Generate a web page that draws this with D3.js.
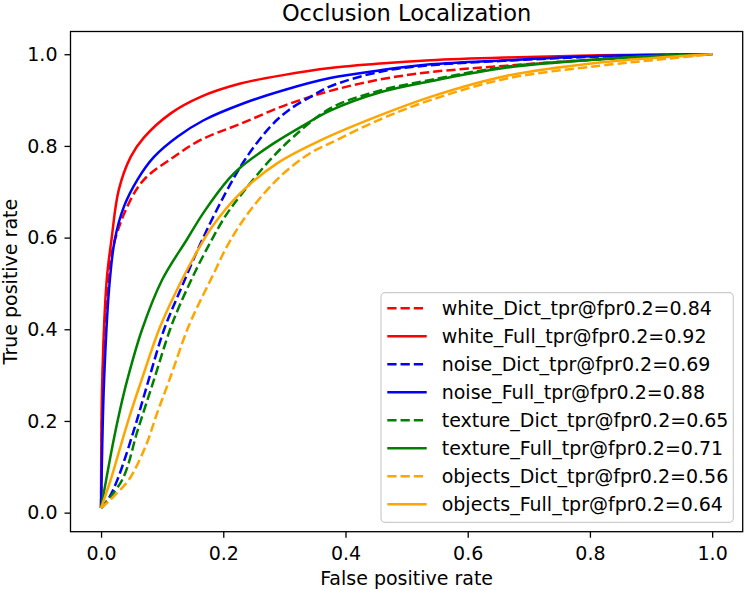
<!DOCTYPE html>
<html>
<head>
<meta charset="utf-8">
<script src="https://cdn.jsdelivr.net/npm/d3@7"></script>
<style>
  body { margin: 0; background: #fff; }
  text { font-family: "DejaVu Sans", sans-serif; }
</style>
</head>
<body>
<div id="chart"></div>
<script>
// Canvas size and margins (axes box)
var w = 747;
var h = 590;
var margin = {top: 31.5, right: 4.3, bottom: 58.3, left: 70.5};

// Series names, colours and styles (legend order = draw order)
var seriesNames = [
  "white_Dict_tpr@fpr0.2=0.84",
  "white_Full_tpr@fpr0.2=0.92",
  "noise_Dict_tpr@fpr0.2=0.69",
  "noise_Full_tpr@fpr0.2=0.88",
  "texture_Dict_tpr@fpr0.2=0.65",
  "texture_Full_tpr@fpr0.2=0.71",
  "objects_Dict_tpr@fpr0.2=0.56",
  "objects_Full_tpr@fpr0.2=0.64"
];
var seriesColors = ["red", "red", "blue", "blue", "green", "green", "orange", "orange"];
var seriesDashed = [true, false, true, false, true, false, true, false];

// ROC points [fpr, tpr]
var whiteDict = [[0,0.01],[0.003,0.3],[0.008,0.45],[0.0186,0.573],[0.043,0.668],[0.07,0.726],[0.119,0.776],[0.163,0.813],[0.228,0.848],[0.30,0.888],[0.375,0.92],[0.457,0.945],[0.539,0.961],[0.664,0.975],[0.816,0.989],[0.925,0.996],[1,1]];
var whiteFull = [[0,0.01],[0.002,0.29],[0.0093,0.508],[0.017,0.595],[0.029,0.704],[0.0485,0.776],[0.07,0.818],[0.114,0.871],[0.163,0.907],[0.228,0.936],[0.30,0.955],[0.375,0.970],[0.457,0.980],[0.539,0.987],[0.664,0.993],[0.816,0.998],[1,1]];
var noiseDict = [[0,0.01],[0.012,0.03],[0.027,0.0725],[0.054,0.181],[0.078,0.29],[0.103,0.399],[0.130,0.486],[0.1655,0.595],[0.2036,0.697],[0.236,0.771],[0.277,0.842],[0.307,0.878],[0.348,0.911],[0.375,0.93],[0.457,0.962],[0.539,0.976],[0.664,0.986],[0.816,0.995],[1,1]];
var noiseFull = [[0,0.01],[0.002,0.15],[0.005,0.29],[0.013,0.486],[0.0224,0.595],[0.0376,0.668],[0.0594,0.726],[0.0866,0.776],[0.125,0.82],[0.168,0.856],[0.2335,0.893],[0.30,0.922],[0.375,0.948],[0.457,0.965],[0.539,0.978],[0.664,0.987],[0.816,0.996],[1,1]];
var textureDict = [[0,0.01],[0.035,0.0725],[0.06,0.18],[0.0866,0.29],[0.113,0.40],[0.128,0.45],[0.152,0.52],[0.179,0.59],[0.205,0.65],[0.233,0.70],[0.277,0.77],[0.315,0.82],[0.375,0.882],[0.457,0.921],[0.539,0.944],[0.664,0.973],[0.816,0.989],[0.925,0.997],[1,1]];
var textureFull = [[0,0.01],[0.0085,0.0725],[0.0186,0.145],[0.030,0.218],[0.043,0.29],[0.067,0.399],[0.10,0.508],[0.141,0.597],[0.168,0.655],[0.209,0.728],[0.228,0.753],[0.283,0.806],[0.3315,0.845],[0.375,0.877],[0.457,0.917],[0.539,0.941],[0.664,0.971],[0.816,0.989],[0.925,0.997],[1,1]];
var objectsDict = [[0,0.01],[0.016,0.029],[0.03,0.048],[0.046,0.0725],[0.073,0.145],[0.092,0.218],[0.112,0.29],[0.141,0.399],[0.158,0.45],[0.182,0.515],[0.209,0.588],[0.2445,0.66],[0.293,0.733],[0.342,0.784],[0.375,0.806],[0.457,0.858],[0.539,0.9],[0.664,0.947],[0.816,0.975],[0.925,0.99],[1,1]];
var objectsFull = [[0,0.01],[0.016,0.0725],[0.032,0.145],[0.0485,0.218],[0.0665,0.29],[0.0947,0.399],[0.1166,0.465],[0.149,0.55],[0.182,0.624],[0.228,0.697],[0.288,0.762],[0.359,0.812],[0.457,0.867],[0.539,0.907],[0.664,0.953],[0.816,0.982],[0.925,0.994],[1,1]];

var seriesData = [whiteDict, whiteFull, noiseDict, noiseFull, textureDict, textureFull, objectsDict, objectsFull];

// Tick values
var xTicks = [0, 0.2, 0.4, 0.6, 0.8, 1.0];
var yTicks = [0, 0.2, 0.4, 0.6, 0.8, 1.0];

var svg = d3.select("#chart")
            .append("svg")
            .attr("width", w)
            .attr("height", h);

// Scales (matplotlib style 5% margins)
var xScale = d3.scaleLinear()
               .domain([-0.05, 1.05])
               .range([margin.left, w - margin.right]);

var yScale = d3.scaleLinear()
               .domain([-0.0416, 1.0496])
               .range([h - margin.bottom, margin.top]);

var line = d3.line()
             .x(d => xScale(d[0]))
             .y(d => yScale(d[1]))
             .curve(d3.curveCatmullRom.alpha(0.5));

// Curves
seriesData.forEach(function(data, i) {
    svg.append("path")
       .datum(data)
       .attr("fill", "none")
       .attr("stroke", seriesColors[i])
       .attr("stroke-width", 2.5)
       .attr("stroke-dasharray", seriesDashed[i] ? "9.25,4" : null)
       .attr("d", line);
});

// Axes
var xAxis = d3.axisBottom(xScale)
              .tickValues(xTicks)
              .tickFormat(d3.format(".1f"))
              .tickSize(6)
              .tickPadding(9);

var yAxis = d3.axisLeft(yScale)
              .tickValues(yTicks)
              .tickFormat(d3.format(".1f"))
              .tickSize(6)
              .tickPadding(7);

var gx = svg.append("g")
            .attr("transform", `translate(0, ${h - margin.bottom})`)
            .call(xAxis);

var gy = svg.append("g")
            .attr("transform", `translate(${margin.left}, 0)`)
            .call(yAxis);

[gx, gy].forEach(function(g) {
    g.select(".domain").remove();
    g.selectAll(".tick line").attr("stroke", "#000").attr("stroke-width", 1.3);
    g.selectAll(".tick text")
     .attr("fill", "#000")
     .style("font-size", "19px")
     .style("font-family", "DejaVu Sans, sans-serif");
});

// Axes frame
svg.append("rect")
   .attr("x", margin.left)
   .attr("y", margin.top)
   .attr("width", w - margin.left - margin.right)
   .attr("height", h - margin.top - margin.bottom)
   .attr("fill", "none")
   .attr("stroke", "#000")
   .attr("stroke-width", 1.3);

// Title and axis labels
var cx = (margin.left + w - margin.right) / 2;

svg.append("text")
   .attr("x", cx)
   .attr("y", 20.7)
   .attr("text-anchor", "middle")
   .style("font-size", "22.5px")
   .text("Occlusion Localization");

svg.append("text")
   .attr("x", cx)
   .attr("y", 585)
   .attr("text-anchor", "middle")
   .style("font-size", "19px")
   .text("False positive rate");

svg.append("text")
   .attr("transform", `translate(17, ${(margin.top + h - margin.bottom) / 2}) rotate(-90)`)
   .attr("text-anchor", "middle")
   .style("font-size", "19px")
   .text("True positive rate");

// Legend
var legend = svg.append("g");

legend.append("rect")
      .attr("x", 381)
      .attr("y", 292.7)
      .attr("width", 352.3)
      .attr("height", 229.6)
      .attr("rx", 4)
      .attr("fill", "#fff")
      .attr("fill-opacity", 0.8)
      .attr("stroke", "#cccccc")
      .attr("stroke-width", 1.2);

seriesNames.forEach(function(name, i) {
    var yy = 308.3 + i * 28;
    legend.append("line")
          .attr("x1", 387.3)
          .attr("x2", 426.7)
          .attr("y1", yy)
          .attr("y2", yy)
          .attr("stroke", seriesColors[i])
          .attr("stroke-width", 2.5)
          .attr("stroke-dasharray", seriesDashed[i] ? "9.25,4" : null);
    legend.append("text")
          .attr("x", 441.7)
          .attr("y", yy + 6.5)
          .style("font-size", "19px")
          .text(name);
});
</script>
</body>
</html>
